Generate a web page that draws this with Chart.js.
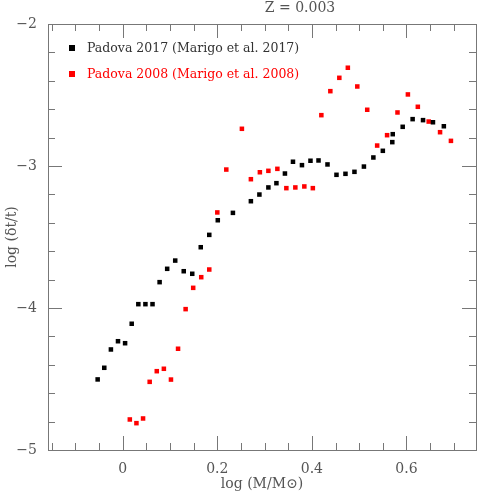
<!DOCTYPE html>
<html><head><meta charset="utf-8">
<script src="https://cdn.jsdelivr.net/npm/chart.js@4"></script>
<style>html,body{margin:0;padding:0;background:#fff}#w{width:480px;height:497px}</style>
</head><body><div id="w"><canvas id="c"></canvas></div>
<script>
const titleText = "Z = 0.003";
const label2017 = "Padova 2017 (Marigo et al. 2017)";
const label2008 = "Padova 2008 (Marigo et al. 2008)";
const xTicks = [0, 0.2, 0.4, 0.6];
const yTicks = [-2, -3, -4, -5];
const x2017 = [-0.053,-0.039,-0.025,-0.010,0.005,0.019,0.033,0.048,0.063,0.078,0.094,0.111,0.129,0.147,0.165,0.183,0.201,0.233,0.271,0.289,0.308,0.325,0.343,0.360,0.379,0.397,0.414,0.433,0.452,0.471,0.490,0.510,0.530,0.550,0.570,0.571,0.592,0.613,0.635,0.656,0.679];
const y2017 = [-4.503,-4.421,-4.292,-4.234,-4.248,-4.111,-3.973,-3.973,-3.973,-3.818,-3.724,-3.666,-3.741,-3.759,-3.572,-3.485,-3.382,-3.330,-3.248,-3.201,-3.151,-3.121,-3.053,-2.970,-2.994,-2.963,-2.961,-2.989,-3.062,-3.055,-3.041,-3.004,-2.940,-2.893,-2.832,-2.776,-2.724,-2.670,-2.677,-2.692,-2.720];
const x2008 = [0.015,0.029,0.043,0.057,0.072,0.087,0.102,0.117,0.133,0.149,0.166,0.183,0.200,0.219,0.252,0.271,0.290,0.308,0.327,0.346,0.365,0.384,0.402,0.420,0.439,0.458,0.476,0.496,0.517,0.538,0.559,0.581,0.603,0.624,0.647,0.671,0.694];
const y2008 = [-4.785,-4.811,-4.778,-4.520,-4.445,-4.428,-4.504,-4.287,-4.008,-3.858,-3.783,-3.729,-3.327,-3.025,-2.738,-3.093,-3.044,-3.034,-3.020,-3.156,-3.151,-3.144,-3.156,-2.642,-2.473,-2.379,-2.308,-2.440,-2.604,-2.856,-2.783,-2.623,-2.496,-2.583,-2.687,-2.762,-2.823];

const toPts = (xs, ys) => xs.map((x, i) => ({x, y: ys[i]}));
const FONT = "'DejaVu Serif', 'Liberation Serif', serif";
const GRAY = '#555';

const frame = {
  id: 'frame',
  afterDraw(chart) {
    const ctx = chart.ctx, a = chart.chartArea, sx = chart.scales.x, sy = chart.scales.y;
    ctx.save();
    ctx.strokeStyle = '#777'; ctx.lineWidth = 1;
    ctx.strokeRect(a.left + 0.5, a.top + 0.5, a.right - a.left, a.bottom - a.top);
    ctx.beginPath();
    for (let v = -0.15; v <= 0.75; v += 0.05) {
      const vv = Math.round(v * 100) / 100;
      const p = Math.round(sx.getPixelForValue(vv)) + 0.5;
      const L = Math.abs(vv * 10 - Math.round(vv * 10)) < 1e-6 && Math.round(vv * 10) % 2 === 0 ? 14 : 7;
      ctx.moveTo(p, a.bottom); ctx.lineTo(p, a.bottom - L);
      ctx.moveTo(p, a.top); ctx.lineTo(p, a.top + L);
    }
    for (let v = -5; v <= -2; v += 0.2) {
      const vv = Math.round(v * 10) / 10;
      const p = Math.round(sy.getPixelForValue(vv)) + 0.5;
      const L = Math.abs(vv - Math.round(vv)) < 1e-6 ? 14 : 7;
      ctx.moveTo(a.left, p); ctx.lineTo(a.left + L, p);
      ctx.moveTo(a.right, p); ctx.lineTo(a.right - L, p);
    }
    ctx.stroke();
    ctx.fillStyle = GRAY; ctx.font = '14px ' + FONT;
    ctx.textAlign = 'center'; ctx.textBaseline = 'middle';
    ctx.fillText(titleText, 300, 8);
    ctx.textAlign = 'left';
    ctx.fillStyle = '#000'; ctx.fillRect(69, 45, 6, 6);
    ctx.fillStyle = '#333'; ctx.font = '12.5px ' + FONT;
    ctx.fillText(label2017, 87, 49);
    ctx.fillStyle = '#f00'; ctx.fillRect(69, 71, 6, 6);
    ctx.fillText(label2008, 87, 75);
    ctx.restore();
  }
};

new Chart(document.getElementById('c'), {
  type: 'scatter',
  data: { datasets: [
    { data: toPts(x2017, y2017), backgroundColor: '#000', borderColor: '#000', pointStyle: 'rect', pointRadius: 3.2, borderWidth: 0 },
    { data: toPts(x2008, y2008), backgroundColor: '#f00', borderColor: '#f00', pointStyle: 'rect', pointRadius: 3.2, borderWidth: 0 }
  ]},
  options: {
    responsive: true, maintainAspectRatio: false, animation: false,
    layout: { padding: { top: 24, right: 2, left: 0, bottom: 0 } },
    plugins: { legend: { display: false }, tooltip: { enabled: false } },
    scales: {
      x: { type: 'linear', min: -0.158, max: 0.747,
        afterFit(s) { s.height = 47; },
        afterBuildTicks(s) { s.ticks = xTicks.map(v => ({value: v})); },
        grid: { display: false }, border: { display: false },
        ticks: { color: GRAY, font: { size: 14, family: FONT }, padding: 3, maxRotation: 0, callback: v => String(v) },
        title: { display: true, text: 'log (M/M\u2299)', color: GRAY, font: { size: 14, family: FONT }, padding: { top: 2 } } },
      y: { type: 'linear', min: -5, max: -2,
        afterFit(s) { s.width = 48; },
        afterBuildTicks(s) { s.ticks = yTicks.map(v => ({value: v})); },
        grid: { display: false }, border: { display: false },
        ticks: { color: GRAY, font: { size: 14, family: FONT }, padding: 3, callback: v => '\u2212' + Math.abs(v) },
        title: { display: true, text: 'log (\u03b4t/t)', color: GRAY, font: { size: 14, family: FONT }, padding: { bottom: 2 } } }
    }
  },
  plugins: [frame]
});
</script></body></html>
